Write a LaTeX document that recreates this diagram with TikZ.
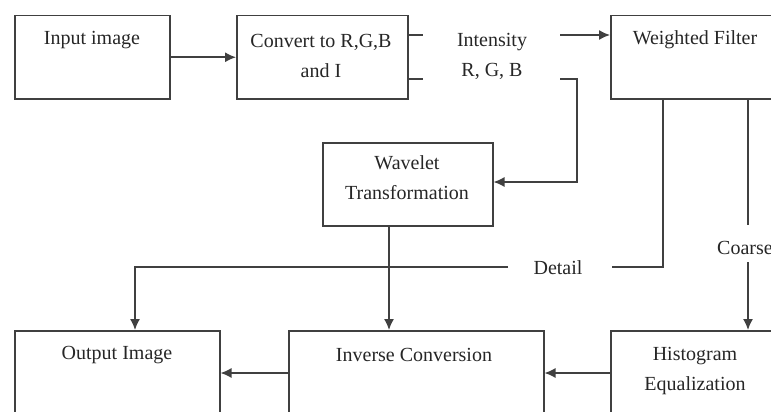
\documentclass[tikz,border=0pt]{standalone}
\usepackage{fontspec}
\setmainfont{Liberation Serif}
\usetikzlibrary{arrows.meta}
\begin{document}
\begin{tikzpicture}[x=1pt,y=-1pt,
  box/.style={draw=black!75, line width=1.5pt, anchor=north west, inner sep=0pt},
  lbl/.style={text=black!85, font=\fontsize{20}{30}\selectfont, align=center, inner sep=0pt},
  ln/.style={draw=black!75, line width=1.5pt},
  arr/.style={ln, -{Latex[length=11pt,width=10pt]}}]
\useasboundingbox (0,0) rectangle (771,412);
\clip (0,0) rectangle (771,412);
% boxes
\node[box, minimum width=155pt, minimum height=83pt] (in) at (14,15) {};
\node[box, minimum width=171pt, minimum height=83pt] (conv) at (236,15) {};
\node[box, minimum width=180pt, minimum height=83pt] (wf) at (610,15) {};
\node[box, minimum width=170pt, minimum height=83pt] (wav) at (322,142) {};
\node[box, minimum width=205pt, minimum height=100pt] (out) at (14,330) {};
\node[box, minimum width=255pt, minimum height=100pt] (inv) at (288,330) {};
\node[box, minimum width=180pt, minimum height=100pt] (hist) at (610,330) {};
% texts
\node[lbl] (tin) at (92,40) {Input image};
\node[lbl] (tconv) at (321,56) {Convert to R,G,B\\and I};
\node[lbl] (tint) at (492,56) {Intensity\\R, G, B};
\node[lbl] (twf) at (695,40) {Weighted Filter};
\node[lbl] (twav) at (407,178) {Wavelet\\Transformation};
\node[lbl] (tdet) at (558,268) {Detail};
\node[lbl, anchor=west] (tcoarse) at (717,248) {Coarse};
\node[lbl] (tout) at (117,355) {Output Image};
\node[lbl] (tinv) at (414,355) {Inverse Conversion};
\node[lbl] (thist) at (695,371) {Histogram\\Equalization};
% coordinates
\coordinate (c1) at (423,35);
\coordinate (c2) at (560,35);
\coordinate (c3) at (423,79);
\coordinate (c4) at (560,79);
\coordinate (c5) at (577,182);
\coordinate (d1) at (663,267);
\coordinate (d2) at (612,267);
\coordinate (d3) at (508,267);
\coordinate (d4) at (135,267);
\coordinate (w1) at (389,267);
\coordinate (k1) at (748,225);
\coordinate (k2) at (748,262);
\coordinate (h1) at (0,373);
% connectors
\draw[arr] (in) -- (conv);
\draw[ln] (conv.east |- c1) -- (c1);
\draw[arr] (c2) -- (wf.west |- c2);
\draw[ln] (conv.east |- c3) -- (c3);
\draw[arr] (c4) -| (c5) -- (wav.east |- c5);
\draw[ln] (wf.south -| d1) -- (d1) -- (d2);
\draw[arr] (d3) -- (d4) -- (out.north -| d4);
\draw[arr] (wav.south -| w1) -- (inv.north -| w1);
\draw[ln] (wf.south -| k1) -- (k1);
\draw[arr] (k2) -- (hist.north -| k2);
\draw[arr] (hist.west |- h1) -- (inv.east |- h1);
\draw[arr] (inv.west |- h1) -- (out.east |- h1);
\end{tikzpicture}
\end{document}
